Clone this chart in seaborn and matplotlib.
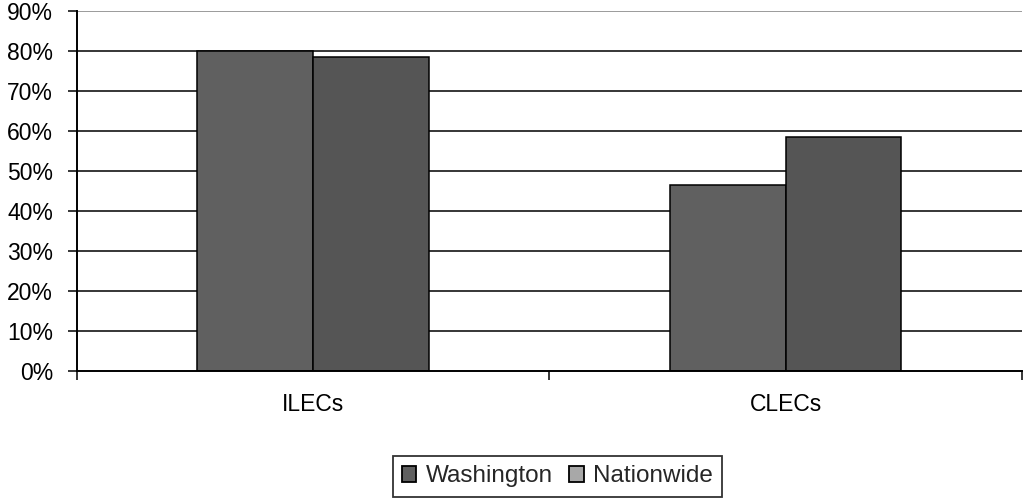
import matplotlib
matplotlib.use("Agg")
import matplotlib.pyplot as plt
import matplotlib.ticker as mticker
from matplotlib.patches import Patch
import seaborn as sns
import pandas as pd

# chart values (share, %)
categories = ["ILECs", "CLECs"]
series = ["Washington", "Nationwide"]
washington = [80.0, 46.5]
nationwide = [78.5, 58.5]

df = pd.DataFrame({
    "carrier": categories * 2,
    "region": [series[0]] * 2 + [series[1]] * 2,
    "share": washington + nationwide,
})

sns.set_style("white")
plt.rcParams["font.family"] = ["Liberation Sans", "DejaVu Sans"]

fig, ax = plt.subplots(figsize=(10.24, 5.01), dpi=100)
fig.subplots_adjust(left=0.0752, right=0.998, top=0.978, bottom=0.2595)

# grid lines behind the bars
for v in range(10, 90, 10):
    ax.axhline(v, color="black", lw=1.1, zorder=0)
ax.axhline(90, color="#808080", lw=1.1, zorder=0)

sns.barplot(data=df, x="carrier", y="share", hue="region", order=categories,
            hue_order=series, palette=["#606060", "#555555"], width=0.49,
            edgecolor="black", linewidth=1.1, saturation=1, ax=ax, legend=False,
            zorder=2)

ax.set_xlim(-0.5, 1.5)
ax.set_ylim(0, 90)
ax.yaxis.set_major_locator(mticker.MultipleLocator(10))
ax.yaxis.set_major_formatter(mticker.FuncFormatter(lambda v, p: f"{v:.0f}%"))
ax.set_xlabel("")
ax.set_ylabel("")

# category ticks at the boundaries, labels in the middle
ax.set_xticks([-0.5, 0.5, 1.5], minor=True)
ax.tick_params(axis="x", which="minor", bottom=True, length=6.5, width=1.1,
               color="black", direction="out")
ax.tick_params(axis="x", which="major", bottom=True, length=0, pad=16,
               labelsize=16.5, labelcolor="black")
ax.tick_params(axis="y", left=True, length=6.5, width=1.1, color="black",
               direction="out", pad=10.8, labelsize=16.5, labelcolor="black")

for side in ["top", "right"]:
    ax.spines[side].set_visible(False)
for side in ["left", "bottom"]:
    ax.spines[side].set_color("black")
    ax.spines[side].set_linewidth(1.4)
    ax.spines[side].set_zorder(3)

handles = [Patch(facecolor="#606060", edgecolor="black", lw=1.3),
           Patch(facecolor="#a8a8a8", edgecolor="black", lw=1.3)]
leg = fig.legend(handles, series, loc="center", bbox_to_anchor=(0.5444, 0.049),
                 ncol=2, frameon=True, fancybox=False, fontsize=17.5,
                 handlelength=0.6, handleheight=0.6, handletextpad=0.4,
                 columnspacing=0.65, borderpad=0.38, borderaxespad=0)
leg.get_frame().set_edgecolor("black")
leg.get_frame().set_linewidth(1.3)

fig.savefig("out.png", dpi=100)
